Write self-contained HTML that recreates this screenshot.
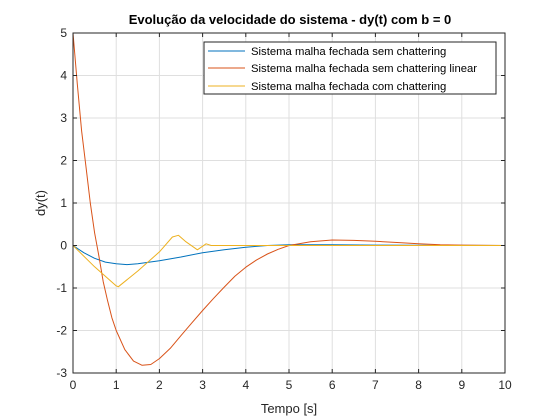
<!DOCTYPE html>
<html><head><meta charset="utf-8"><style>
body{margin:0;background:#fff;}
svg{display:block;font-family:"Liberation Sans",Arial,sans-serif;}
</style></head><body>
<svg id="chart" width="560" height="420" viewBox="0 0 560 420">
<rect x="0" y="0" width="560" height="420" fill="#fff"/>
<rect x="73" y="33" width="432" height="340" fill="#fff"/>
<g id="grid"></g>
<g id="series"></g>
<rect x="73" y="33" width="432" height="340" fill="none" stroke="#262626" stroke-width="1"/>
<g id="ticks"></g>
<text x="290" y="24" text-anchor="middle" font-size="13" font-weight="bold" fill="#000">Evolução da velocidade do sistema - dy(t) com b = 0</text>
<text x="289" y="413" text-anchor="middle" font-size="13" fill="#262626">Tempo [s]</text>
<text x="0" y="0" transform="translate(45,203) rotate(-90)" text-anchor="middle" font-size="13" fill="#262626">dy(t)</text>
<g>
<rect x="204" y="42" width="292" height="52" fill="#fff" stroke="#262626" stroke-width="1"/>
<g><line x1="208" y1="51" x2="245" y2="51" stroke="#0072bd"/><text x="251" y="55" font-size="11.3" fill="#000">Sistema malha fechada sem chattering</text></g>
<g><line x1="208" y1="68" x2="245" y2="68" stroke="#d95319"/><text x="251" y="72" font-size="11.3" fill="#000">Sistema malha fechada sem chattering linear</text></g>
<g><line x1="208" y1="86" x2="245" y2="86" stroke="#edb120"/><text x="251" y="90" font-size="11.3" fill="#000">Sistema malha fechada com chattering</text></g>
</g>
</svg>
<script>
const xTicks=[0,1,2,3,4,5,6,7,8,9,10];
const yTicks=[-3,-2,-1,0,1,2,3,4,5];
const blueT=[0,0.25,0.5,0.75,1,1.25,1.5,2,2.5,3,3.5,4,4.5,5,6,7,8,10];
const blueY=[0,-0.17,-0.3,-0.39,-0.43,-0.45,-0.43,-0.36,-0.27,-0.17,-0.1,-0.04,0,0.02,0.02,0.01,0.005,0];
const orangeT=[0,0.1,0.2,0.3,0.4,0.5,0.6,0.7,0.8,0.9,1.0,1.2,1.4,1.6,1.8,2.0,2.25,2.5,2.75,3.0,3.25,3.5,3.75,4,4.25,4.5,4.75,5,5.5,6,6.5,7,7.5,8,8.5,9,10];
const orangeY=[5,3.8,2.7,1.85,1.0,0.3,-0.25,-0.85,-1.3,-1.7,-2.0,-2.45,-2.72,-2.82,-2.8,-2.66,-2.42,-2.12,-1.82,-1.53,-1.25,-0.98,-0.72,-0.51,-0.34,-0.2,-0.09,0,0.09,0.13,0.12,0.1,0.07,0.04,0.02,0.01,0];
const yellowT=[0,0.5,1,1.05,1.5,2,2.3,2.44,2.6,2.88,3.08,3.2,3.5,4,10];
const yellowY=[0,-0.5,-0.95,-0.97,-0.6,-0.15,0.2,0.24,0.1,-0.1,0.04,0,0,0,0];
const X0=73,X1=505,Y0=373,Y1=33;
function sx(v){return X0+(v-0)/(10-0)*(X1-X0);}
function sy(v){return Y0-(v-(-3))/(5-(-3))*(Y0-Y1);}
const NS="http://www.w3.org/2000/svg";
const grid=document.getElementById('grid'),ticks=document.getElementById('ticks'),series=document.getElementById('series');
function mk(tag,attrs,parent){const e=document.createElementNS(NS,tag);for(const k in attrs)e.setAttribute(k,attrs[k]);parent.appendChild(e);return e;}
xTicks.forEach(v=>{
 const x=sx(v);
 const g=mk('line',{x1:x,y1:Y1,x2:x,y2:Y0,stroke:'#dfdfdf','stroke-width':1},grid);
 
 
 const t1=mk('line',{x1:x,y1:Y0,x2:x,y2:Y0-4,stroke:'#262626'},ticks);
 
 
 const t2=mk('line',{x1:x,y1:Y1,x2:x,y2:Y1+4,stroke:'#262626'},ticks);
 
 
 const l=mk('text',{x:x,y:Y0+16,'text-anchor':'middle','font-size':12,fill:'#262626'},ticks);
 l.textContent=v;
 
 
});
yTicks.forEach(v=>{
 const y=sy(v);
 const g=mk('line',{x1:X0,y1:y,x2:X1,y2:y,stroke:'#dfdfdf','stroke-width':1},grid);
 
 
 const t1=mk('line',{x1:X0,y1:y,x2:X0+4,y2:y,stroke:'#262626'},ticks);
 
 
 const t2=mk('line',{x1:X1,y1:y,x2:X1-4,y2:y,stroke:'#262626'},ticks);
 
 
 const l=mk('text',{x:X0-6,y:y+4,'text-anchor':'end','font-size':12,fill:'#262626'},ticks);
 l.textContent=v;
 
 
});
function line(T,Y,color,name){
 const d=T.map((t,i)=>(i?'L':'M')+sx(t).toFixed(1)+','+sy(Y[i]).toFixed(1)).join('');
 const p=mk('path',{d:d,fill:'none',stroke:color,'stroke-width':1,'stroke-linejoin':'round'},series);
 
 
}
line(blueT,blueY,'#0072bd','series-sem-chattering');
line(orangeT,orangeY,'#d95319','series-sem-chattering-linear');
line(yellowT,yellowY,'#edb120','series-com-chattering');
</script>
</body></html>
